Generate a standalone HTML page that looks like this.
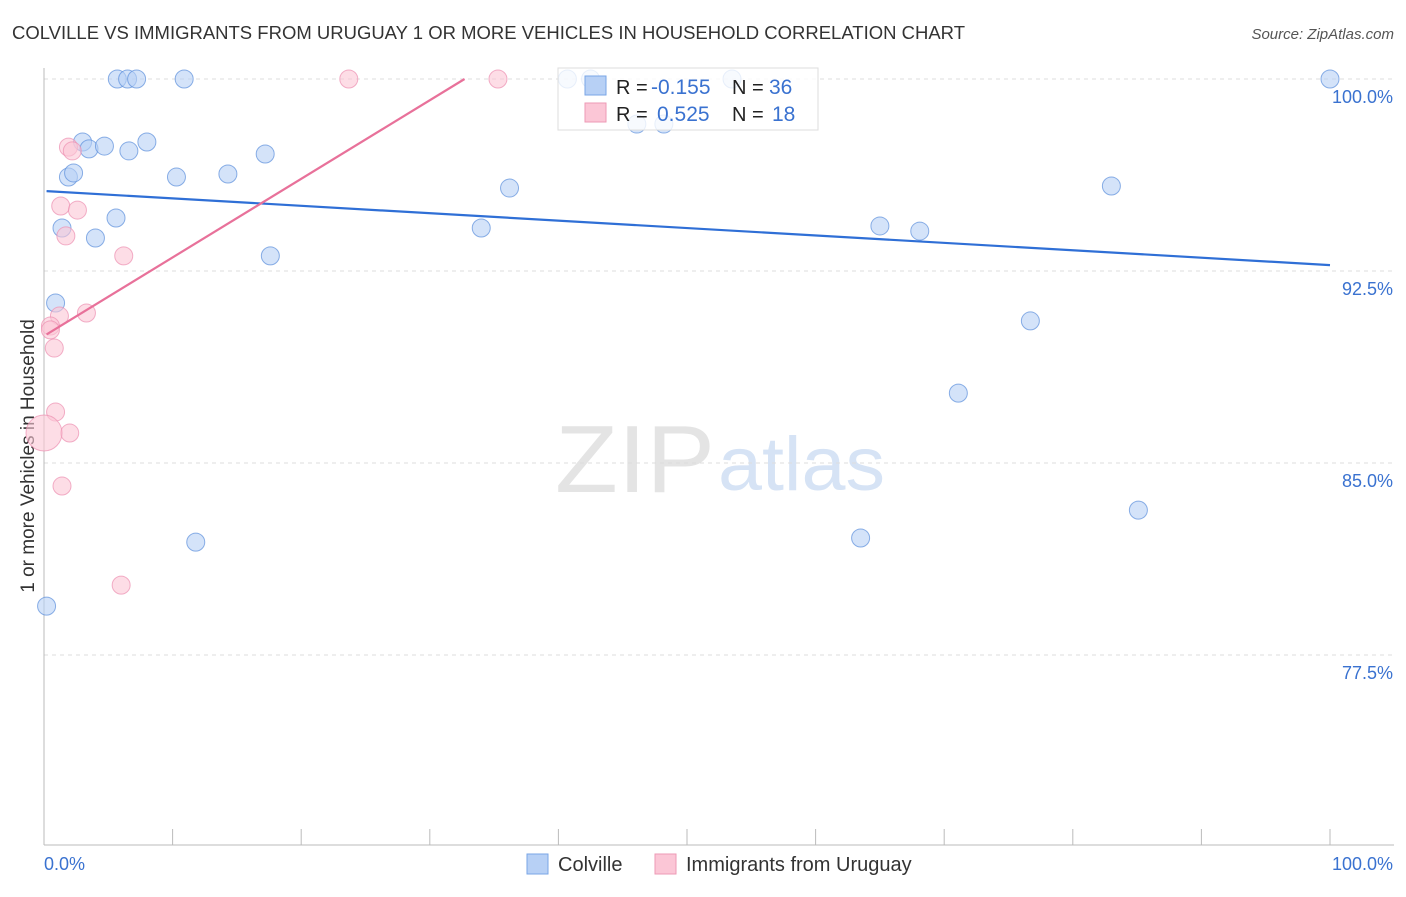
<!DOCTYPE html>
<html><head><meta charset="utf-8"><style>
body{margin:0;background:#fff;font-family:"Liberation Sans",sans-serif}
svg text{font-family:"Liberation Sans",sans-serif}
</style></head><body>
<svg id="c" width="1406" height="892">
<text x="12" y="39" font-size="18" fill="#333" textLength="953" lengthAdjust="spacingAndGlyphs">COLVILLE VS IMMIGRANTS FROM URUGUAY 1 OR MORE VEHICLES IN HOUSEHOLD CORRELATION CHART</text>
<text x="1394" y="39" font-size="15" fill="#555" text-anchor="end" font-style="italic">Source: ZipAtlas.com</text>
<text transform="translate(34,456) rotate(-90)" font-size="19" fill="#333" text-anchor="middle">1 or more Vehicles in Household</text>
<text x="555" y="492" font-size="96" fill="#e4e4e4" font-family="Liberation Serif" textLength="160" lengthAdjust="spacingAndGlyphs">ZIP</text>
<text x="718" y="490" font-size="76" fill="#d6e3f5" textLength="167" lengthAdjust="spacingAndGlyphs">atlas</text>
<g id="grid"></g><g id="axes"></g><g id="marks"></g>
<g>
<rect x="558" y="68" width="260" height="62" fill="#fff" fill-opacity="0.8" stroke="#ddd"/>
<rect x="585" y="76" width="21" height="19" fill="#b7d0f5" stroke="#7aa6e6"/>
<rect x="585" y="103" width="21" height="19" fill="#fbc6d6" stroke="#ee9ab5"/>
<text x="616" y="94" font-size="20" fill="#222">R = <tspan x="651" fill="#3a72d0" font-size="21">-0.155</tspan></text>
<text x="732" y="94" font-size="20" fill="#222">N = <tspan x="769" fill="#3a72d0" font-size="21">36</tspan></text>
<text x="616" y="121" font-size="20" fill="#222">R = <tspan x="657" fill="#3a72d0" font-size="21">0.525</tspan></text>
<text x="732" y="121" font-size="20" fill="#222">N = <tspan x="772" fill="#3a72d0" font-size="21">18</tspan></text>
</g>
<g>
<rect x="527" y="854" width="21" height="20" fill="#b7d0f5" stroke="#7aa6e6"/>
<text x="558" y="871" font-size="20" fill="#333">Colville</text>
<rect x="655" y="854" width="21" height="20" fill="#fbc6d6" stroke="#ee9ab5"/>
<text x="686" y="871" font-size="20" fill="#333">Immigrants from Uruguay</text>
</g>
</svg>
<script>
const yTicks=[100,92.5,85,77.5];
const yTickLabels=["100.0%","92.5%","85.0%","77.5%"];
const xTickLabels=["0.0%","100.0%"];
const blueX=[5.7,6.5,7.2,10.9,40.7,42.5,53.5,100,3.0,3.5,4.7,6.6,8.0,17.2,1.9,2.3,10.3,14.3,36.2,83.0,1.4,5.6,4.0,34.0,65.0,68.1,17.6,0.9,76.7,71.1,85.1,11.8,63.5,0.2,46.1,48.2];
const blueY=[100,100,100,100,100,100,100,100,97.54,97.27,97.38,97.19,97.54,97.07,96.17,96.33,96.17,96.29,95.74,95.82,94.18,94.57,93.79,94.18,94.26,94.06,93.09,91.25,90.55,87.73,83.16,81.91,82.07,79.41,98.24,98.24];
const pinkX=[23.7,35.3,1.9,2.2,1.3,2.6,1.7,6.2,3.3,1.2,0.5,0.5,0.8,0.9,2.0,0,1.4,6.0];
const pinkY=[100,100,97.34,97.19,95.04,94.88,93.87,93.09,90.86,90.74,90.35,90.2,89.49,86.99,86.17,86.17,84.1,80.23];
const pinkR=[9,9,9,9,9,9,9,9,9,9,9,9,9,9,9,18,9,9];
const blueTrend=[95.62,92.73];
const pinkTrend=[89.96,0.307];
const NS="http://www.w3.org/2000/svg";
const X=v=>44+v*12.86, Y=v=>79+(100-v)*25.6;
function mk(t,a,p){const e=document.createElementNS(NS,t);for(const k in a)e.setAttribute(k,a[k]);p.appendChild(e);return e;}
const grid=document.getElementById('grid'),axes=document.getElementById('axes'),marks=document.getElementById('marks');
yTicks.forEach((t,i)=>{
 const l=mk('line',{x1:44,x2:1394,y1:Y(t),y2:Y(t),stroke:'#ddd','stroke-dasharray':'4,4'},grid);
 
 
 const tx=mk('text',{x:1393,y:Y(t)+24,'font-size':18,fill:'#3a72d0','text-anchor':'end'},axes);
 tx.textContent=yTickLabels[i];
 
 
});
const ax=mk('line',{x1:44,x2:44,y1:68,y2:845,stroke:'#bbb'},axes);


const bx=mk('line',{x1:44,x2:1394,y1:845,y2:845,stroke:'#bbb'},axes);


for(let i=0;i<=10;i++){const t=mk('line',{x1:X(i*10),x2:X(i*10),y1:829,y2:845,stroke:'#bbb'},axes);
 
 }
[[44,'start'],[1393,'end']].forEach((d,i)=>{const t=mk('text',{x:d[0],y:870,'font-size':18,fill:'#3a72d0','text-anchor':d[1]},axes);
 t.textContent=xTickLabels[i];
 
 });
blueX.forEach((v,i)=>{const c=mk('circle',{cx:X(v),cy:Y(blueY[i]),r:9,fill:'#b7d0f5','fill-opacity':0.6,stroke:'#5b8fdc','stroke-opacity':0.7},marks);
 
 });
pinkX.forEach((v,i)=>{const c=mk('circle',{cx:X(v),cy:Y(pinkY[i]),r:pinkR[i],fill:'#fbc6d6','fill-opacity':0.6,stroke:'#ec8fb0','stroke-opacity':0.7},marks);
 
 });
const bl=mk('line',{x1:X(0.2),y1:Y(blueTrend[0]),x2:X(100),y2:Y(blueTrend[1]),stroke:'#2f6fd6','stroke-width':2.2},marks);


const xEnd=(100-pinkTrend[0])/pinkTrend[1];
const pl=mk('line',{x1:X(0.2),y1:Y(pinkTrend[0]+0.2*pinkTrend[1]),x2:X(xEnd),y2:Y(100),stroke:'#e8719a','stroke-width':2.2},marks);


</script>
</body></html>
